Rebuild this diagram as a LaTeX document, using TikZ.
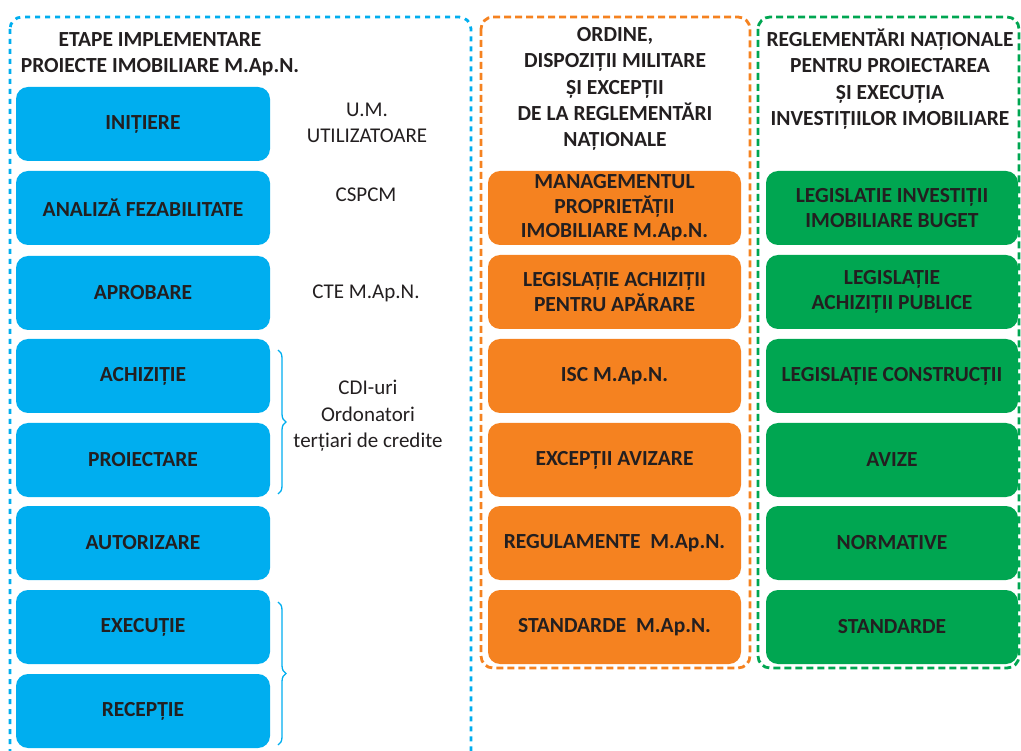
\documentclass[tikz,border=0pt]{standalone}
\usepackage{fontspec}
\setmainfont{Carlito}
\usetikzlibrary{decorations.pathreplacing}
\definecolor{cblue}{HTML}{00AEEF}
\definecolor{corange}{HTML}{F58220}
\definecolor{cgreen}{HTML}{00A651}
\definecolor{ctext}{HTML}{231F20}
\tikzset{
  boxbase/.style={rounded corners=12pt, minimum width=254pt, minimum height=74pt, align=center, text=ctext, font=\bfseries\fontsize{21.5}{24.5}\selectfont, inner sep=0pt},
  bluebox/.style={boxbase, fill=cblue},
  orangebox/.style={boxbase, fill=corange, minimum width=253pt},
  greenbox/.style={boxbase, fill=cgreen, minimum width=252pt},
  header/.style={align=center, text=ctext, font=\bfseries\fontsize{21.5}{26.3}\selectfont, inner sep=0pt},
  who/.style={align=center, text=ctext, font=\fontsize{21}{26.5}\selectfont, inner sep=0pt},
  frame/.style={rounded corners=12pt, line width=2.8pt},
  bracestyle/.style={draw=cblue, line width=1.3pt, decorate, decoration={brace, amplitude=8pt}},
}
\begin{document}
\begin{tikzpicture}[x=1pt,y=-1pt]
\useasboundingbox (0,0) rectangle (1021,751);
\clip (0,0) rectangle (1021,751);
% containers
\draw[frame, draw=cblue, dash pattern=on 5pt off 5pt] (10,17) rectangle (471,790);
\draw[frame, draw=corange, dash pattern=on 7pt off 4pt] (481,17) rectangle (750,668);
\draw[frame, draw=cgreen, dash pattern=on 7pt off 4pt] (758,17) rectangle (1019,668);
% headers
\node[header] (h1) at (160,54) {ETAPE IMPLEMENTARE\\PROIECTE IMOBILIARE M.Ap.N.};
\node[header] (h2) at (615,89) {ORDINE,\\DISPOZIȚII MILITARE\\ȘI EXCEPȚII\\DE LA REGLEMENTĂRI\\NAȚIONALE};
\node[header] (h3) at (890,79) {REGLEMENTĂRI NAȚIONALE\\PENTRU PROIECTAREA\\ȘI EXECUȚIA\\INVESTIȚIILOR IMOBILIARE};
% blue boxes
\node[bluebox] (b1) at (143,124) {INIȚIERE};
\node[bluebox] (b2) at (143,208) {ANALIZĂ FEZABILITATE};
\node[bluebox] (b3) at (143,293) {APROBARE};
\node[bluebox] (b4) at (143,376) {ACHIZIȚIE};
\node[bluebox] (b5) at (143,460) {PROIECTARE};
\node[bluebox] (b6) at (143,543) {AUTORIZARE};
\node[bluebox] (b7) at (143,627) {EXECUȚIE};
\node[bluebox] (b8) at (143,711) {RECEPȚIE};
% responsible
\node[who] (w1) at (367,123) {U.M.\\UTILIZATOARE};
\node[who] (w2) at (366,195) {CSPCM};
\node[who] (w3) at (366,293) {CTE M.Ap.N.};
\node[who] (w4) at (368,416) {CDI-uri\\Ordonatori\\terțiari de credite};
% braces
\coordinate (br1a) at (278,350);
\coordinate (br1b) at (278,494);
\coordinate (br2a) at (278,602);
\coordinate (br2b) at (278,745);
\draw[bracestyle] (br1a) -- (br1b);
\draw[bracestyle] (br2a) -- (br2b);
% orange boxes
\node[orangebox] (o1) at (614.5,208) {MANAGEMENTUL\\PROPRIETĂȚII\\IMOBILIARE M.Ap.N.};
\node[orangebox] (o2) at (614.5,292) {LEGISLAȚIE ACHIZIȚII\\PENTRU APĂRARE};
\node[orangebox] (o3) at (614.5,376) {ISC M.Ap.N.};
\node[orangebox] (o4) at (614.5,460) {EXCEPȚII AVIZARE};
\node[orangebox] (o5) at (614.5,543) {REGULAMENTE\ \ M.Ap.N.};
\node[orangebox] (o6) at (614.5,627) {STANDARDE\ \ M.Ap.N.};
% green boxes
\node[greenbox] (g1) at (892,208) {LEGISLATIE INVESTIȚII\\IMOBILIARE BUGET};
\node[greenbox] (g2) at (892,292) {LEGISLAȚIE\\ACHIZIȚII PUBLICE};
\node[greenbox] (g3) at (892,376) {LEGISLAȚIE CONSTRUCȚII};
\node[greenbox] (g4) at (892,460) {AVIZE};
\node[greenbox] (g5) at (892,543) {NORMATIVE};
\node[greenbox] (g6) at (892,627) {STANDARDE};
\end{tikzpicture}
\end{document}
